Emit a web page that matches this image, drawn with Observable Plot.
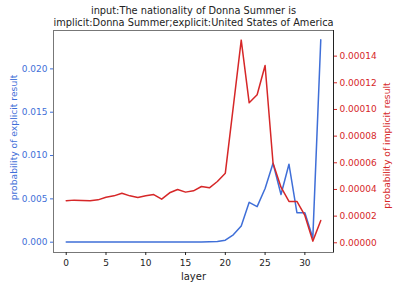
<!DOCTYPE html>
<html><head><meta charset="utf-8">
<script src="https://cdn.jsdelivr.net/npm/d3@7"></script>
<script src="https://cdn.jsdelivr.net/npm/@observablehq/plot@0.6"></script>
<style>
body{margin:0;background:#fff;font-family:"DejaVu Sans",sans-serif;}
#wrap{width:398px;height:287px;overflow:hidden;}
#title{height:29px;width:387px;text-align:center;font-size:9.8px;line-height:11.5px;color:#222;padding-top:5px;box-sizing:border-box;}
</style></head><body>
<div id="wrap"><div id="title">input:The nationality of Donna Summer is<br>implicit:Donna Summer;explicit:United States of America</div><div id="chart"></div></div>
<script>
const layers = d3.range(0, 33);
const explicitProb = [0.00001,0.00001,0.00001,0.00001,0.00001,0.00001,0.00001,0.00001,0.00001,0.00001,0.00001,0.00001,0.00001,0.00001,0.00002,0.00002,0.00002,0.00003,0.00005,0.00009,0.00023,0.00085,0.00188,0.0046,0.0041,0.0062,0.0091,0.0055,0.0090,0.0034,0.0034,0.0005,0.02335];
const implicitProb = [3.15e-5,3.2e-5,3.17e-5,3.15e-5,3.22e-5,3.42e-5,3.52e-5,3.72e-5,3.52e-5,3.4e-5,3.52e-5,3.62e-5,3.27e-5,3.75e-5,4.0e-5,3.8e-5,3.9e-5,4.22e-5,4.12e-5,4.6e-5,5.22e-5,1.02e-4,1.52e-4,1.05e-4,1.11e-4,1.33e-4,5.97e-5,4.17e-5,3.1e-5,3.1e-5,2.05e-5,1.25e-6,1.67e-5];
const xTicks = [0,5,10,15,20,25,30];
const leftTicks = [0,0.005,0.010,0.015,0.020];
const rightTicks = [0,0.00002,0.00004,0.00006,0.00008,0.00010,0.00012,0.00014];

const blueDom = [-0.00119, 0.02443];
const redDom = [-7.28e-6, 1.5922e-4];
const toBlue = v => blueDom[0] + (v - redDom[0]) / (redDom[1] - redDom[0]) * (blueDom[1] - blueDom[0]);
const toRed = v => redDom[0] + (v - blueDom[0]) / (blueDom[1] - blueDom[0]) * (redDom[1] - redDom[0]);

const blueC = "#3f6fd8", redC = "#d62728";
const dBlue = layers.map((l,i)=>({layer:l, v:explicitProb[i]}));
const dRed = layers.map((l,i)=>({layer:l, v:toBlue(implicitProb[i])}));

const chart = Plot.plot({
  width: 398, height: 258,
  marginLeft: 53, marginRight: 65, marginTop: 1, marginBottom: 35,
  style: {fontFamily: "DejaVu Sans, sans-serif", fontSize: "9px", background: "#fff"},
  x: {domain: [-1.6, 33.6]},
  y: {domain: blueDom},
  marks: [
    Plot.frame({stroke: "#777", strokeWidth: 1}),
    Plot.ruleX([33.6], {stroke: "#222", strokeWidth: 1}),
    Plot.axisX(xTicks, {tickSize: 3, tickPadding: 4, color: "#222", label: null, fontSize: 9}),
    Plot.text(["layer"], {frameAnchor: "bottom", dy: 27, fontSize: 10, fill: "#222"}),
    Plot.axisY(leftTicks, {anchor: "left", tickSize: 3, tickPadding: 3, color: blueC, tickFormat: d3.format(".3f"), label: null, fontSize: 9}),
    Plot.text(["probability of explicit result"], {frameAnchor: "left", textAnchor: "middle", dx: -39, dy: -4, rotate: -90, fill: blueC, fontSize: 9.2}),
    Plot.axisY(rightTicks.map(toBlue), {anchor: "right", tickSize: 3, tickPadding: 3, color: redC, tickFormat: d => (Math.round(toRed(d)*1e5)/1e5).toFixed(5), label: null, fontSize: 9}),
    Plot.text(["probability of implicit result"], {frameAnchor: "right", textAnchor: "middle", dx: 54, dy: 4, rotate: -90, fill: redC, fontSize: 9.2}),
    Plot.line(dBlue, {x: "layer", y: "v", stroke: blueC, strokeWidth: 1.5}),
    Plot.line(dRed, {x: "layer", y: "v", stroke: redC, strokeWidth: 1.5})
  ]
});
document.getElementById("chart").append(chart);
</script>
</body></html>
